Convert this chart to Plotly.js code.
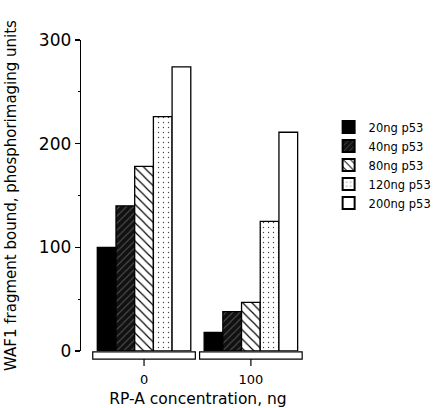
<!DOCTYPE html>
<html>
<head>
<meta charset="utf-8">
<script src="https://cdn.plot.ly/plotly-3.0.1.min.js"></script>
<style>html,body{margin:0;padding:0;background:#fff;}#chart{width:437px;height:408px;}</style>
</head>
<body>
<div id="chart"></div>
<script>
var categories = ["0", "100"];
var seriesNames = ["20ng p53", "40ng p53", "80ng p53", "120ng p53", "200ng p53"];
var v20 = [100, 18];
var v40 = [140, 38];
var v80 = [178, 47];
var v120 = [226, 125];
var v200 = [274, 211];
var yTicks = [0, 100, 200, 300];
var xTitle = "RP-A concentration, ng";
var yTitle = "WAF1 fragment bound, phosphorimaging units";

var values = [v20, v40, v80, v120, v200];
var patterns = [
  {shape: "", bgcolor: "#000", fgcolor: "#000"},
  {shape: "/", bgcolor: "#111", fgcolor: "#555", size: 5, solidity: 0.2},
  {shape: "\\", bgcolor: "#fff", fgcolor: "#000", size: 6.5, solidity: 0.18},
  {shape: ".", bgcolor: "#fff", fgcolor: "#444", size: 5, solidity: 0.06},
  {shape: "", bgcolor: "#fff", fgcolor: "#fff"}
];
var fills = ["#000", "#111", "#fff", "#fff", "#fff"];
var traces = seriesNames.map(function (n, i) {
  return {
    type: "bar", name: n, x: categories, y: values[i],
    marker: {color: fills[i], line: {color: "#000", width: 1.3}, pattern: patterns[i]}
  };
});

var shapes = [];
var boxHalf = 0.48;
categories.forEach(function (c, i) {
  shapes.push({type: "rect", xref: "x", yref: "paper", x0: i - boxHalf, x1: i + boxHalf,
    y0: -0.003, y1: -0.026, line: {color: "#000", width: 1.2}, fillcolor: "#fff", layer: "above"});
  shapes.push({type: "line", xref: "x", yref: "paper", x0: i, x1: i,
    y0: -0.026, y1: -0.048, line: {color: "#000", width: 1.2}});
});

var layout = {
  width: 437, height: 408,
  margin: {l: 81, r: 122, t: 40, b: 57, autoexpand: false},
  paper_bgcolor: "#fff", plot_bgcolor: "#fff",
  font: {family: "DejaVu Sans, sans-serif", color: "#000"},
  barmode: "group", bargap: 0.125, bargroupgap: 0,
  showlegend: true,
  legend: {xref: "container", yref: "container", x: 0.752, xanchor: "left", y: 0.724, yanchor: "top",
    font: {size: 11.5}, tracegroupgap: 0, itemsizing: "constant", bgcolor: "rgba(0,0,0,0)"},
  xaxis: {
    type: "category", range: [-0.59, 1.6], showline: false, showgrid: false, zeroline: false,
    ticks: "", ticklabelstandoff: 19, tickfont: {size: 13},
    title: {text: xTitle, font: {size: 15.5}, standoff: 8}
  },
  yaxis: {
    range: [0, 300], tickvals: yTicks, ticktext: yTicks.map(String),
    showline: true, linecolor: "#000", linewidth: 1.3, showgrid: false, zeroline: false,
    ticks: "outside", ticklen: 5, tickwidth: 1.3, tickcolor: "#000", tickfont: {size: 17},
    minor: {dtick: 50, tick0: 0, ticks: "outside", ticklen: 2, tickwidth: 1, tickcolor: "#000", showgrid: false},
    title: {text: yTitle, font: {size: 15}, standoff: 18}
  },
  shapes: shapes
};
Plotly.newPlot("chart", traces, layout, {displayModeBar: false, staticPlot: true});
</script>
</body>
</html>
